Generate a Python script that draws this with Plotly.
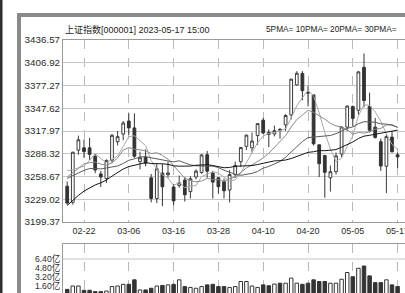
import plotly.graph_objects as go
import pandas as pd

# ---------------- data ----------------
dates = ["02-17", "02-20", "02-21", "02-22", "02-23", "02-24", "02-27", "02-28",
         "03-01", "03-02", "03-03", "03-06", "03-07", "03-08", "03-09", "03-10",
         "03-13", "03-14", "03-15", "03-16", "03-17", "03-20", "03-21", "03-22",
         "03-23", "03-24", "03-27", "03-28", "03-29", "03-30", "03-31", "04-03",
         "04-04", "04-06", "04-07", "04-10", "04-11", "04-12", "04-13", "04-14",
         "04-17", "04-18", "04-19", "04-20", "04-21", "04-24", "04-25", "04-26",
         "04-27", "04-28", "05-04", "05-05", "05-08", "05-09", "05-10", "05-11",
         "05-12", "05-15", "05-16", "05-17"]
opens = [3246, 3225, 3293, 3296, 3296, 3285, 3262, 3256,
         3280, 3304, 3314, 3331, 3322, 3278, 3284, 3257,
         3230, 3263, 3261, 3245, 3247, 3254, 3239, 3258,
         3264, 3287, 3263, 3257, 3252, 3241, 3261, 3278,
         3298, 3296, 3312, 3332, 3316, 3314, 3320, 3326,
         3339, 3378, 3393, 3368, 3365, 3300, 3286, 3257,
         3265, 3288, 3323, 3350, 3345, 3401, 3350, 3323,
         3304, 3272, 3310, 3287]
highs = [3252, 3291, 3312, 3307, 3309, 3288, 3266, 3281,
         3314, 3318, 3331, 3341, 3341, 3291, 3294, 3262,
         3275, 3275, 3278, 3249, 3260, 3258, 3259, 3268,
         3288, 3292, 3266, 3258, 3256, 3267, 3278, 3297,
         3313, 3316, 3328, 3335, 3320, 3325, 3322, 3340,
         3386, 3396, 3396, 3377, 3365, 3300, 3287, 3273,
         3290, 3323, 3351, 3351, 3396, 3419, 3368, 3335,
         3308, 3314, 3318, 3290]
lows = [3222, 3222, 3287, 3283, 3280, 3263, 3245, 3250,
        3276, 3299, 3306, 3313, 3283, 3268, 3272, 3225,
        3224, 3220, 3257, 3221, 3244, 3226, 3230, 3255,
        3262, 3257, 3230, 3236, 3230, 3225, 3257, 3271,
        3293, 3290, 3300, 3314, 3297, 3311, 3308, 3318,
        3333, 3377, 3358, 3350, 3299, 3258, 3231, 3239,
        3261, 3284, 3318, 3324, 3339, 3349, 3316, 3308,
        3266, 3237, 3290, 3270]
closes = [3224.0, 3290.3, 3306.5, 3291.2, 3287.5, 3267.2, 3258.0, 3279.6,
          3312.4, 3310.6, 3328.4, 3322.0, 3285.1, 3283.2, 3276.1, 3230.1,
          3268.7, 3245.3, 3263.3, 3226.9, 3250.5, 3234.9, 3255.7, 3265.7,
          3286.7, 3265.6, 3251.4, 3245.4, 3240.1, 3261.2, 3272.9, 3296.4,
          3312.6, 3304.9, 3327.6, 3315.4, 3313.6, 3318.4, 3319.1, 3338.2,
          3385.6, 3393.3, 3370.6, 3367.5, 3301.3, 3275.4, 3264.1, 3264.9,
          3285.5, 3323.3, 3350.5, 3334.5, 3395.0, 3357.7, 3319.1, 3309.6,
          3272.4, 3310.7, 3290.9, 3284.2]
# closes before the first visible day (needed for the moving averages)
prior_closes = [3089.3, 3116.5, 3123.5, 3155.2, 3157.6, 3176.1, 3169.5, 3161.8,
                3163.5, 3195.3, 3228.1, 3224.2, 3224.4, 3240.3, 3264.8, 3269.3,
                3255.7, 3284.9, 3285.7, 3263.4, 3238.7, 3248.1, 3232.1, 3270.4,
                3260.7, 3284.2, 3293.3, 3280.5, 3249.0]
# volume, in 亿
volumes = [1.0, 1.6, 1.6, 0.84, 0.84, 0.6, 0.6, 0.7,
           1.5, 1.6, 1.9, 1.9, 2.7, 0.9, 0.9, 1.2,
           1.6, 1.7, 1.8, 1.9, 2.7, 1.5, 1.35, 1.2,
           1.5, 1.8, 1.9, 1.5, 1.5, 1.35, 1.5, 2.4,
           2.4, 1.6, 1.35, 1.8, 1.65, 1.95, 2.1, 2.1,
           3.0, 2.1, 1.9, 2.1, 2.7, 2.4, 2.4, 2.1,
           2.1, 2.8, 4.0, 3.25, 4.75, 5.15, 3.4, 2.2,
           2.2, 2.7, 1.8, 1.5]

ma_periods = [5, 10, 20, 30]
ma_colors = ["#a8a8a8", "#8a8a8a", "#5c5c5c", "#161616"]

x_tick_labels = ["02-22", "03-06", "03-16", "03-28", "04-10", "04-20", "05-05", "05-17"]
price_ticks = [3199.37, 3229.02, 3258.67, 3288.32, 3317.97, 3347.62, 3377.27, 3406.92, 3436.57]
vol_ticks = [1.60, 3.20, 4.80, 6.40]
vol_tick_labels = ["1.60亿", "3.20亿", "4.80亿", "6.40亿"]

title_text = "上证指数[000001] 2023-05-17 15:00"
legend_text = "5PMA= 10PMA= 20PMA= 30PMA="

# ---------------- figure ----------------
W, H = 405, 293
ML, MR, MT, MB = 63, 0, 40, 0
PW, PH = W - ML - MR, H - MT - MB


def px_x(p):
    return (p - ML) / PW


def px_y(p):
    return (H - MB - p) / PH


xs = list(range(len(dates)))
all_closes = pd.Series(prior_closes + closes)
n_prior = len(prior_closes)

FONT = "Liberation Sans, Arial, Noto Sans CJK SC, sans-serif"
DARK = "#333333"
TXT = "#2a2a2a"

fig = go.Figure()

# volume bars
vol_colors = ["white" if c >= o else DARK for o, c in zip(opens, closes)]
fig.add_trace(go.Bar(x=xs, y=volumes, xaxis="x2", yaxis="y2", width=0.62,
                     marker=dict(color=vol_colors, line=dict(color=DARK, width=1)),
                     showlegend=False, hoverinfo="skip"))

# moving averages
for p, col in zip(ma_periods, ma_colors):
    vals = all_closes.rolling(p).mean().iloc[n_prior:].tolist()
    fig.add_trace(go.Scatter(x=xs, y=vals, mode="lines",
                             line=dict(color=col, width=1), showlegend=False,
                             hoverinfo="skip"))

# candles
fig.add_trace(go.Candlestick(
    x=xs, open=opens, high=highs, low=lows, close=closes,
    increasing=dict(line=dict(color="#3c3c3c", width=1), fillcolor="white"),
    decreasing=dict(line=dict(color=DARK, width=1), fillcolor=DARK),
    whiskerwidth=0, showlegend=False))

tickvals = [dates.index(t) for t in x_tick_labels]
xrange = [-0.75, (W - MR - ML) / 5.6 - 0.75]

main_bottom = px_y(222)
vol_top = px_y(244)

fig.update_layout(
    template="none",
    width=W, height=H,
    margin=dict(l=ML, r=MR, t=MT, b=MB, pad=0),
    paper_bgcolor="white", plot_bgcolor="white",
    showlegend=False,
    xaxis=dict(domain=[0, 1], range=xrange, anchor="y", automargin=False,
               tickvals=tickvals, ticktext=x_tick_labels,
               ticks="", ticklabeloverflow="allow",
               tickfont=dict(family=FONT, size=9, color=TXT),
               showgrid=True, gridcolor="#b8b8b8", griddash="dash", gridwidth=1,
               showline=True, linecolor="#9a9a9a", linewidth=1, mirror=True,
               zeroline=False, rangeslider=dict(visible=False)),
    yaxis=dict(domain=[main_bottom, 1], range=[price_ticks[0], price_ticks[-1]],
               automargin=False,
               tickvals=price_ticks, ticktext=[f"{v:.2f}" for v in price_ticks],
               ticks="", ticklabeloverflow="allow",
               tickfont=dict(family=FONT, size=9.8, color=TXT),
               showgrid=True, gridcolor="#c6c6c6", gridwidth=1,
               showline=True, linecolor="#9a9a9a", linewidth=1,
               zeroline=False),
    xaxis2=dict(domain=[0, 1], range=xrange, anchor="y2", side="top",
                automargin=False,
                tickvals=tickvals, showticklabels=False, ticks="",
                showgrid=True, gridcolor="#b8b8b8", griddash="dash", gridwidth=1,
                showline=True, linecolor="#9a9a9a", linewidth=1,
                zeroline=False),
    yaxis2=dict(domain=[0, vol_top], range=[0.356, 9.07], automargin=False,
                tickvals=vol_ticks, ticktext=vol_tick_labels,
                ticks="", ticklabeloverflow="allow",
                tickfont=dict(family=FONT, size=8.6, color=TXT),
                showgrid=False, showline=True, linecolor="#9a9a9a", linewidth=1,
                zeroline=False),
)

# single horizontal grid line in the volume panel
fig.add_shape(type="line", xref="x2 domain", x0=0, x1=1, yref="y2",
              y0=vol_ticks[-1], y1=vol_ticks[-1],
              line=dict(color="#c6c6c6", width=1), layer="below")

# outer frame decorations
fig.add_shape(type="rect", xref="paper", yref="paper",
              x0=px_x(0), x1=px_x(2.5), y0=px_y(H + 2), y1=px_y(-2),
              fillcolor="#2e2e2e", line=dict(width=0), layer="above")
fig.add_shape(type="rect", xref="paper", yref="paper",
              x0=px_x(17), x1=px_x(21), y0=px_y(H + 2), y1=px_y(13),
              fillcolor="#8a8a8a", line=dict(width=0), layer="above")
fig.add_shape(type="rect", xref="paper", yref="paper",
              x0=px_x(17), x1=px_x(W + 2), y0=px_y(17), y1=px_y(13),
              fillcolor="#8a8a8a", line=dict(width=0), layer="above")

# header texts
fig.add_annotation(xref="paper", yref="paper", x=0, y=px_y(29),
                   xanchor="left", yanchor="middle", showarrow=False,
                   text=title_text, font=dict(family=FONT, size=9, color="#222"))
fig.add_annotation(xref="paper", yref="paper", x=px_x(264), y=px_y(29),
                   xanchor="left", yanchor="middle", showarrow=False,
                   text=legend_text, font=dict(family=FONT, size=8.3, color="#222"))

fig.write_html("out.html",
               config={"displayModeBar": False, "staticPlot": True},
               post_script="document.body.style.margin='0';"
                           "document.body.style.overflow='hidden';")
